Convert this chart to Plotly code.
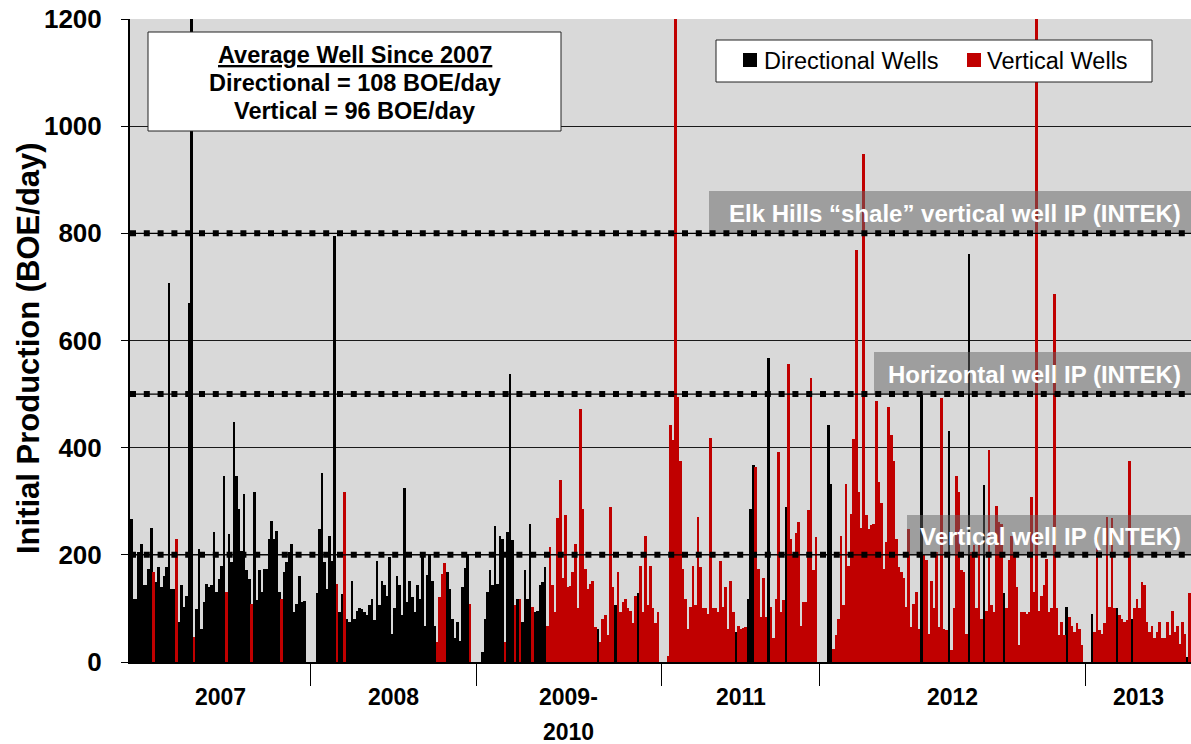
import plotly.graph_objects as go

# ---------------- DATA ----------------
# Each well: (initial production BOE/day, kind) kind: 'D' = directional, 'V' = vertical
# a value of 0 means an empty slot (gap between periods)
period_labels = ["2007", "2008", "2009-2010", "2011", "2012", "2013"]

wells_2007 = [
    (267, 'D'), (118, 'D'), (118, 'D'), (205, 'D'), (220, 'D'), (143, 'D'), (143, 'D'), (174, 'D'), (250, 'D'), (168, 'V'),
    (149, 'D'), (177, 'D'), (140, 'D'), (161, 'D'), (177, 'D'), (707, 'D'), (137, 'D'), (137, 'D'), (230, 'V'), (75, 'D'),
    (143, 'D'), (102, 'D'), (124, 'D'), (670, 'D'), (1250, 'D'), (47, 'V'), (99, 'D'), (211, 'D'), (62, 'D'), (112, 'D'),
    (146, 'D'), (140, 'D'), (143, 'D'), (242, 'D'), (130, 'D'), (155, 'D'), (180, 'D'), (348, 'D'), (130, 'V'), (239, 'D'),
    (186, 'D'), (447, 'D'), (348, 'D'), (286, 'D'), (208, 'D'), (314, 'D'), (171, 'D'), (155, 'D'), (109, 'V'), (317, 'D'),
    (115, 'D'), (171, 'D'), (130, 'D'), (174, 'D'), (174, 'D'), (230, 'D'), (264, 'D'), (230, 'D'), (245, 'D'), (130, 'D'),
    (118, 'V'), (168, 'D'), (186, 'D'), (205, 'D'), (220, 'D'), (93, 'D'), (109, 'D'), (161, 'D'), (112, 'D'), (113, 'D'),
    (0, 'D'), (0, 'D'),
]

wells_2008 = [
    (0, 'D'), (0, 'D'), (128, 'D'), (249, 'D'), (352, 'D'), (187, 'D'), (137, 'D'), (236, 'D'), (188, 'D'), (795, 'D'),
    (146, 'V'), (93, 'D'), (126, 'D'), (317, 'V'), (81, 'D'), (75, 'D'), (151, 'D'), (81, 'D'), (96, 'D'), (101, 'D'),
    (99, 'D'), (93, 'D'), (87, 'D'), (106, 'D'), (118, 'D'), (78, 'D'), (188, 'D'), (106, 'D'), (152, 'D'), (143, 'D'),
    (124, 'D'), (196, 'D'), (53, 'D'), (100, 'D'), (161, 'D'), (143, 'D'), (87, 'D'), (324, 'D'), (112, 'D'), (152, 'D'),
    (121, 'D'), (93, 'D'), (143, 'D'), (118, 'D'), (196, 'D'), (68, 'D'), (162, 'D'), (199, 'D'), (151, 'D'), (68, 'D'),
    (37, 'V'), (121, 'V'), (165, 'V'), (185, 'V'), (168, 'D'), (137, 'D'), (81, 'D'), (44, 'D'), (75, 'D'), (40, 'D'),
    (140, 'D'), (175, 'D'), (202, 'D'), (108, 'V'), (0, 'D'), (0, 'D'),
]

wells_2009_2010 = [
    (0, 'D'), (0, 'D'), (19, 'D'), (80, 'D'), (130, 'D'), (171, 'D'), (143, 'D'), (254, 'D'), (146, 'D'), (236, 'D'),
    (230, 'D'), (37, 'V'), (243, 'D'), (537, 'D'), (227, 'D'), (106, 'V'), (118, 'D'), (118, 'V'), (75, 'D'), (171, 'D'),
    (118, 'D'), (257, 'D'), (103, 'V'), (93, 'D'), (96, 'D'), (143, 'D'), (149, 'D'), (177, 'D'), (68, 'V'), (215, 'V'),
    (143, 'V'), (93, 'V'), (268, 'V'), (339, 'V'), (156, 'V'), (274, 'V'), (140, 'V'), (142, 'V'), (168, 'V'), (221, 'V'),
    (100, 'V'), (473, 'V'), (286, 'V'), (174, 'V'), (137, 'V'), (146, 'V'), (152, 'V'), (65, 'V'), (62, 'D'), (37, 'V'),
    (81, 'V'), (87, 'V'), (50, 'V'), (289, 'V'), (140, 'V'), (106, 'D'), (168, 'V'), (93, 'V'), (112, 'V'), (118, 'V'),
    (100, 'V'), (96, 'V'), (72, 'V'), (124, 'V'), (128, 'D'), (180, 'V'), (93, 'V'), (236, 'V'), (106, 'V'), (180, 'V'),
    (100, 'V'), (72, 'V'), (93, 'V'), (0, 'V'),
]

wells_2011 = [
    (0, 'V'), (0, 'V'), (12, 'V'), (442, 'V'), (414, 'V'), (1250, 'V'), (495, 'V'), (376, 'V'), (174, 'V'), (118, 'V'),
    (62, 'V'), (103, 'V'), (180, 'V'), (106, 'V'), (271, 'V'), (177, 'V'), (100, 'V'), (100, 'V'), (90, 'V'), (418, 'V'),
    (100, 'V'), (100, 'V'), (93, 'V'), (188, 'V'), (103, 'V'), (140, 'V'), (62, 'V'), (152, 'V'), (93, 'V'), (56, 'D'),
    (68, 'V'), (62, 'V'), (63, 'V'), (65, 'V'), (118, 'D'), (286, 'D'), (368, 'D'), (364, 'V'), (174, 'V'), (84, 'V'),
    (156, 'V'), (84, 'V'), (567, 'D'), (103, 'V'), (44, 'V'), (118, 'V'), (391, 'V'), (93, 'V'), (115, 'V'), (289, 'D'),
    (557, 'V'), (230, 'V'), (199, 'V'), (240, 'V'), (261, 'V'), (68, 'V'), (112, 'V'), (112, 'V'), (283, 'V'), (530, 'V'),
    (171, 'V'), (233, 'V'), (0, 'V'),
]

wells_2012 = [
    (0, 'V'), (0, 'V'), (0, 'V'), (442, 'D'), (333, 'D'), (25, 'V'), (50, 'V'), (81, 'V'), (236, 'V'), (106, 'V'),
    (333, 'V'), (180, 'V'), (277, 'V'), (417, 'V'), (769, 'V'), (317, 'V'), (250, 'V'), (948, 'V'), (274, 'V'), (249, 'V'),
    (255, 'V'), (258, 'V'), (488, 'V'), (336, 'V'), (296, 'V'), (174, 'V'), (224, 'V'), (476, 'V'), (423, 'V'), (376, 'V'),
    (230, 'V'), (177, 'V'), (168, 'V'), (156, 'V'), (103, 'V'), (249, 'V'), (65, 'V'), (109, 'V'), (131, 'V'), (62, 'V'),
    (498, 'D'), (199, 'V'), (190, 'V'), (53, 'V'), (152, 'V'), (100, 'V'), (205, 'V'), (65, 'V'), (492, 'V'), (62, 'V'),
    (59, 'V'), (432, 'D'), (22, 'V'), (100, 'V'), (348, 'V'), (317, 'V'), (171, 'V'), (168, 'V'), (53, 'V'), (762, 'D'),
    (205, 'V'), (218, 'V'), (100, 'V'), (218, 'V'), (81, 'V'), (330, 'D'), (96, 'V'), (395, 'V'), (106, 'V'), (93, 'V'),
    (292, 'V'), (261, 'V'), (258, 'V'), (128, 'D'), (100, 'V'), (190, 'V'), (236, 'V'), (205, 'V'), (140, 'V'), (31, 'V'),
    (93, 'V'), (93, 'V'), (90, 'V'), (93, 'V'), (308, 'V'), (131, 'V'), (1250, 'V'), (96, 'V'), (124, 'V'), (143, 'V'),
    (193, 'V'), (93, 'V'), (100, 'V'), (687, 'V'), (100, 'V'), (50, 'V'), (75, 'V'), (50, 'V'), (103, 'D'), (84, 'V'),
    (68, 'V'), (56, 'V'), (72, 'V'), (62, 'V'), (31, 'V'), (0, 'V'),
]

wells_2013 = [
    (0, 'V'), (0, 'V'), (90, 'D'), (56, 'V'), (245, 'V'), (59, 'V'), (53, 'V'), (72, 'V'), (271, 'V'), (103, 'V'),
    (268, 'V'), (100, 'V'), (100, 'D'), (87, 'V'), (81, 'V'), (75, 'V'), (78, 'V'), (376, 'V'), (81, 'D'), (100, 'V'),
    (118, 'V'), (100, 'V'), (149, 'V'), (143, 'V'), (75, 'V'), (56, 'V'), (68, 'V'), (44, 'V'), (56, 'V'), (75, 'V'),
    (44, 'V'), (44, 'V'), (75, 'V'), (50, 'V'), (96, 'V'), (56, 'V'), (68, 'V'), (34, 'V'), (75, 'V'), (53, 'V'),
    (9, 'D'), (128, 'V'),
]

reference_levels = [800, 500, 200]
reference_texts = ["Elk Hills \u201cshale\u201d vertical well IP (INTEK)",
                   "Horizontal well IP (INTEK)",
                   "Vertical well IP (INTEK)"]
y_ticks = [0, 200, 400, 600, 800, 1000, 1200]
avg_lines = ["<u>Average Well Since 2007</u>",
             "Directional = 108 BOE/day",
             "Vertical = 96 BOE/day"]

# ---------------- BUILD ----------------
periods = [wells_2007, wells_2008, wells_2009_2010, wells_2011, wells_2012, wells_2013]
xd, yd, xv, yv = [], [], [], []
bounds, centers = [], []
idx = 0
for seg in periods:
    start = idx
    for ip, kind in seg:
        if ip > 0:
            if kind == 'D':
                xd.append(idx); yd.append(ip)
            else:
                xv.append(idx); yv.append(ip)
        idx += 1
    bounds.append(idx - 0.5)
    centers.append((start + idx - 1) / 2)
N = idx

W, H = 1191, 744
L, R, T, B = 130, 0, 19, 82
PW, PH = W - L - R, H - T - B


def px_x(px):
    return (px - L) / PW


def px_y(py):
    return (H - B - py) / PH


FONT = "Liberation Sans, Arial, sans-serif"

fig = go.Figure()
fig.add_trace(go.Bar(x=xd, y=yd, width=1.08, name="Directional Wells",
                     marker=dict(color="#000000", line=dict(width=0))))
fig.add_trace(go.Bar(x=xv, y=yv, width=1.08, name="Vertical Wells",
                     marker=dict(color="#c00000", line=dict(width=0))))

shapes = []
annotations = []

# grey label boxes (semi-transparent) above bars
box_px = [(709, 191, 234), (874, 352, 394), (907, 515, 555)]
for (x0, y0, y1) in box_px:
    shapes.append(dict(type="rect", xref="paper", yref="paper", layer="above",
                       x0=px_x(x0), x1=1, y0=px_y(y1), y1=px_y(y0),
                       fillcolor="rgba(100,100,100,0.5)", line=dict(width=0)))

# dotted reference lines
for lvl in reference_levels:
    shapes.append(dict(type="line", xref="paper", yref="y", layer="above",
                       x0=0, x1=1, y0=lvl, y1=lvl,
                       line=dict(color="#000000", width=1.2)))
    shapes.append(dict(type="line", xref="paper", yref="y", layer="above",
                       x0=0, x1=1, y0=lvl, y1=lvl,
                       line=dict(color="#000000", width=6, dash="6px,7.8px")))

# label texts
label_y = [213, 374, 536]
for txt, ly in zip(reference_texts, label_y):
    annotations.append(dict(text=txt, xref="paper", yref="paper", x=px_x(1183), y=px_y(ly),
                            xanchor="right", yanchor="middle", showarrow=False,
                            font=dict(family=FONT, size=24, color="white", weight="bold")))

# average-well text box
shapes.append(dict(type="rect", xref="paper", yref="paper", layer="above",
                   x0=px_x(148), x1=px_x(561), y0=px_y(131), y1=px_y(32),
                   fillcolor="white", line=dict(color="#222222", width=1)))
for txt, ly in zip(avg_lines, [55, 83, 111]):
    annotations.append(dict(text=txt, xref="paper", yref="paper", x=px_x(354.5), y=px_y(ly),
                            xanchor="center", yanchor="middle", showarrow=False,
                            font=dict(family=FONT, size=23.5, color="black", weight="bold")))

# legend box (drawn)
shapes.append(dict(type="rect", xref="paper", yref="paper", layer="above",
                   x0=px_x(716), x1=px_x(1152), y0=px_y(82), y1=px_y(40),
                   fillcolor="white", line=dict(color="#222222", width=1)))
legend_items = [("Directional Wells", "#000000", 743, 762), ("Vertical Wells", "#c00000", 967, 985)]
for name, col, sx, tx in legend_items:
    shapes.append(dict(type="rect", xref="paper", yref="paper", layer="above",
                       x0=px_x(sx), x1=px_x(sx + 14), y0=px_y(67), y1=px_y(53),
                       fillcolor=col, line=dict(width=0)))
    annotations.append(dict(text=name, xref="paper", yref="paper", x=px_x(tx), y=px_y(61),
                            xanchor="left", yanchor="middle", showarrow=False,
                            font=dict(family=FONT, size=23.5, color="black")))

# period labels under the axis
for lab, cx in zip(period_labels, centers):
    if "-" in lab:
        a, b = lab.split("-")
        parts = [(a + "-", 697), (b, 732)]
    else:
        parts = [(lab, 697)]
    for t, ly in parts:
        annotations.append(dict(text=t, xref="x", yref="paper", x=cx, y=px_y(ly),
                                xanchor="center", yanchor="middle", showarrow=False,
                                font=dict(family=FONT, size=23, color="black", weight="bold")))

# y-axis title
annotations.append(dict(text="Initial Production (BOE/day)", xref="paper", yref="paper",
                        x=px_x(28), y=px_y(348), textangle=-90, xanchor="center", yanchor="middle",
                        showarrow=False, font=dict(family=FONT, size=31, color="black", weight="bold")))

fig.update_layout(
    width=W, height=H,
    margin=dict(l=L, r=R, t=T, b=B),
    paper_bgcolor="white", plot_bgcolor="#d9d9d9",
    barmode="overlay", bargap=0,
    showlegend=False,
    shapes=shapes, annotations=annotations,
    font=dict(family=FONT, color="black"),
)
fig.update_xaxes(range=[-0.5, N - 0.5], showgrid=False, zeroline=False,
                 tickmode="array", tickvals=bounds[:-1], ticks="outside", ticklen=22,
                 tickcolor="black", tickwidth=1, showticklabels=False,
                 showline=True, linecolor="black", linewidth=2)
fig.update_yaxes(range=[0, 1200], tickmode="array", tickvals=y_ticks,
                 showgrid=True, gridcolor="#1a1a1a", gridwidth=1, zeroline=False,
                 showline=True, linecolor="black", linewidth=2,
                 ticks="outside", ticklen=7, tickcolor="black", tickwidth=1,
                 ticklabelstandoff=14,
                 tickfont=dict(family=FONT, size=26, color="black", weight="bold"))

fig.write_html("out.html", config={"displayModeBar": False},
               post_script="document.body.style.margin='0';document.body.style.overflow='hidden';")
